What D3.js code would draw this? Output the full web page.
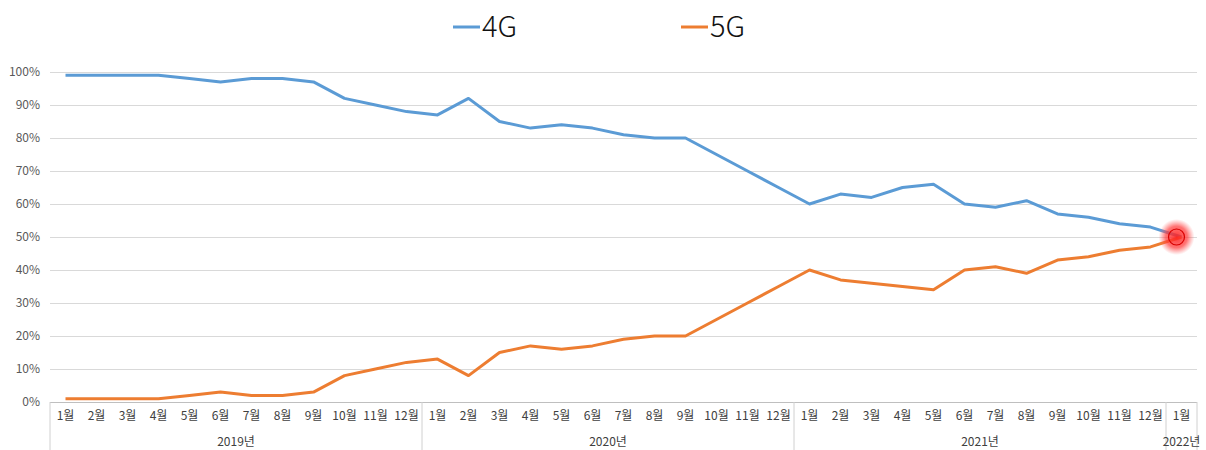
<!DOCTYPE html>
<html>
<head>
<meta charset="utf-8">
<script src="https://cdn.jsdelivr.net/npm/d3@7"></script>
<style>
  body { margin: 0; background: #fff; }
  text { font-family: "Noto Sans CJK KR", "Noto Sans", sans-serif; }
</style>
</head>
<body>
<script>
const years = ['2019년', '2020년', '2021년', '2022년']
const monthsPerYear = [12, 12, 12, 1]
const lte = [99, 99, 99, 99, 98, 97, 98, 98, 97, 92, 90, 88,
             87, 92, 85, 83, 84, 83, 81, 80, 80, 75, 70, 65,
             60, 63, 62, 65, 66, 60, 59, 61, 57, 56, 54, 53,
             50]
const nr = [1, 1, 1, 1, 2, 3, 2, 2, 3, 8, 10, 12,
            13, 8, 15, 17, 16, 17, 19, 20, 20, 25, 30, 35,
            40, 37, 36, 35, 34, 40, 41, 39, 43, 44, 46, 47,
            50]
const yTicks = [0, 10, 20, 30, 40, 50, 60, 70, 80, 90, 100]

// category keys like "2019년|1"
const cats = []
years.forEach((y, i) => {
    for (let m = 1; m <= monthsPerYear[i]; m++) cats.push({ year: y, month: m + '월', key: y + '|' + m })
})

const width = 1206, height = 450
const plotLeft = 50, plotRight = 1197, plotTop = 72, plotBottom = 402

const svg = d3.select('body').append('svg')
    .attr('width', width)
    .attr('height', height)

const x = d3.scaleBand()
    .domain(cats.map(d => d.key))
    .range([plotLeft, plotRight])
    .padding(0)

const y = d3.scaleLinear()
    .domain([0, 100])
    .range([plotBottom, plotTop])

// gridlines + y labels
const yAxis = svg.append('g')
    .attr('transform', `translate(${plotLeft}, 0)`)
    .call(d3.axisLeft(y).tickValues(yTicks).tickSize(-(plotRight - plotLeft)).tickPadding(10).tickFormat(d => d + '%'))
yAxis.select('.domain').remove()
yAxis.selectAll('line').attr('stroke', '#d9d9d9').attr('stroke-width', 1)
yAxis.selectAll('text').attr('fill', '#595959').style('font-size', '12px')
yAxis.selectAll('.tick').filter(d => d === 0).select('line').attr('stroke', '#bfbfbf')

// month labels
svg.append('g').selectAll('text')
    .data(cats)
    .enter().append('text')
    .attr('x', d => x(d.key) + x.bandwidth() / 2)
    .attr('y', 420)
    .attr('text-anchor', 'middle')
    .attr('fill', '#404040')
    .style('font-size', '12px')
    .text(d => d.month)

// year groups
const groups = years.map(y0 => {
    const ks = cats.filter(c => c.year === y0)
    return { year: y0, x0: x(ks[0].key), x1: x(ks[ks.length - 1].key) + x.bandwidth() }
})
const seps = [plotLeft].concat(groups.map(g => g.x1))
svg.append('g').selectAll('line')
    .data(seps)
    .enter().append('line')
    .attr('x1', d => d).attr('x2', d => d)
    .attr('y1', plotBottom).attr('y2', height)
    .attr('stroke', '#d0d0d0')

svg.append('g').selectAll('text')
    .data(groups)
    .enter().append('text')
    .attr('x', d => (d.x0 + d.x1) / 2)
    .attr('y', 446)
    .attr('text-anchor', 'middle')
    .attr('fill', '#404040')
    .style('font-size', '12px')
    .text(d => d.year)

// lines
const line = d3.line()
    .x((d, i) => x(cats[i].key) + x.bandwidth() / 2)
    .y(d => y(d))

svg.append('path')
    .datum(lte)
    .attr('fill', 'none')
    .attr('stroke', '#5b9bd5')
    .attr('stroke-width', 3)
    .attr('stroke-linejoin', 'round')
    .attr('d', line)

svg.append('path')
    .datum(nr)
    .attr('fill', 'none')
    .attr('stroke', '#ed7d31')
    .attr('stroke-width', 3)
    .attr('stroke-linejoin', 'round')
    .attr('d', line)

// highlight at crossing point
const defs = svg.append('defs')
const grad = defs.append('radialGradient').attr('id', 'glow')
grad.append('stop').attr('offset', '0%').attr('stop-color', '#ff2020').attr('stop-opacity', 0.9)
grad.append('stop').attr('offset', '60%').attr('stop-color', '#ff3838').attr('stop-opacity', 0.7)
grad.append('stop').attr('offset', '100%').attr('stop-color', '#ff6060').attr('stop-opacity', 0)

const last = cats.length - 1
const cx = x(cats[last].key) + x.bandwidth() / 2 - 5
const cy = y(lte[last])
svg.append('circle').attr('cx', cx).attr('cy', cy).attr('r', 18).attr('fill', 'url(#glow)')
svg.append('circle').attr('cx', cx).attr('cy', cy).attr('r', 8)
    .attr('fill', 'none').attr('stroke', '#d80000').attr('stroke-width', 1.2)

// legend
const legend = [{ name: '4G', color: '#5b9bd5', x: 453 }, { name: '5G', color: '#ed7d31', x: 681 }]
const lg = svg.append('g').selectAll('g')
    .data(legend)
    .enter().append('g')
    .attr('transform', d => `translate(${d.x}, 27)`)
lg.append('line')
    .attr('x1', 0).attr('x2', 27)
    .attr('stroke', d => d.color)
    .attr('stroke-width', 3)
lg.append('text')
    .attr('x', 29)
    .attr('dy', '0.36em')
    .style('font-size', '29px')
    .style('font-weight', 300)
    .attr('fill', '#111')
    .text(d => d.name)
</script>
</body>
</html>
